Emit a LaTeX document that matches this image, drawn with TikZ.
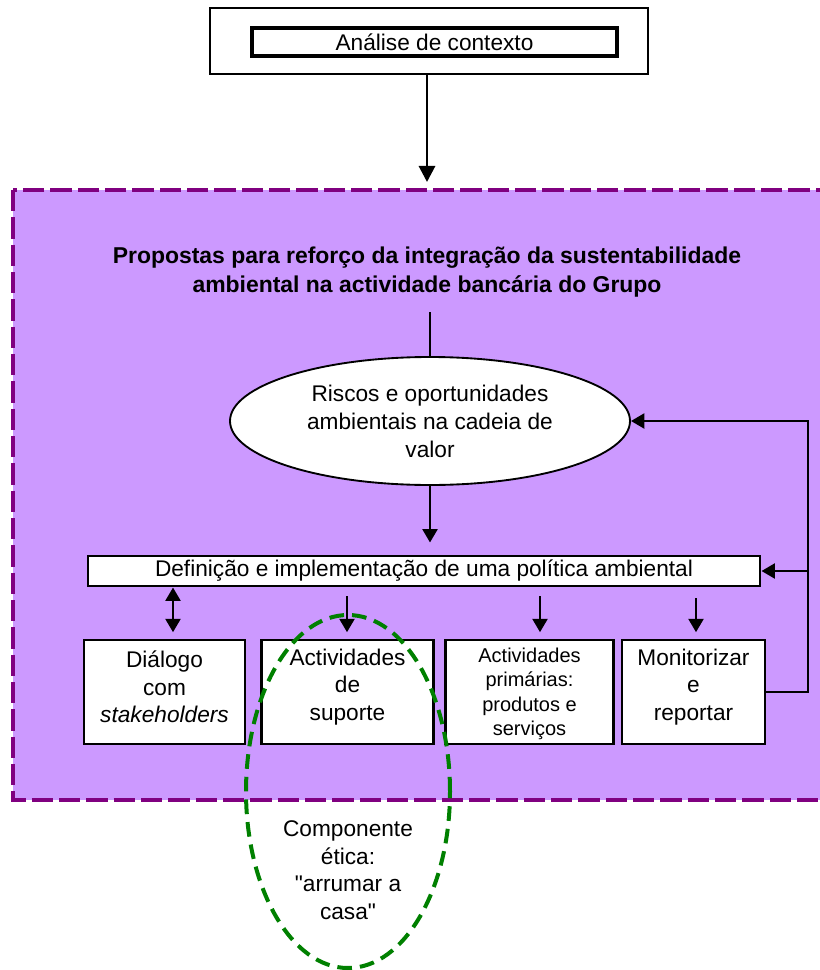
\documentclass[tikz,border=0pt]{standalone}
\usepackage{fontspec}
\setmainfont{Liberation Sans}
\usetikzlibrary{arrows.meta,shapes.geometric}
\definecolor{lilac}{HTML}{CC99FF}
\definecolor{plum}{HTML}{800080}
\definecolor{dgreen}{HTML}{008000}
\begin{document}
\begin{tikzpicture}[x=0.75pt,y=-0.75pt,
 box/.style={draw=black, fill=white, line width=1.6pt, inner sep=0pt},
 txt/.style={align=center, font=\fontsize{17}{20.6}\selectfont, inner sep=0pt},
 smalltxt/.style={align=center, font=\fontsize{15}{18.4}\selectfont, inner sep=0pt},
 arr/.style={-{Triangle[length=10pt,width=11pt]}, line width=2.2pt},
 bigarr/.style={-{Triangle[length=12pt,width=12pt]}, line width=2.2pt},
 dblarr/.style={{Triangle[length=10pt,width=11pt]}-{Triangle[length=10pt,width=11pt]}, line width=2.2pt},
 plainline/.style={line width=2pt}]
\useasboundingbox (0,0) rectangle (819,970);

% top context box
\node[box, minimum width=328.5pt, minimum height=49.5pt] (ctxout) at (429,41) {};
\node[box, line width=2.4pt, minimum width=273.75pt, minimum height=21pt, txt] (ctx) at (434.5,42) {Análise de contexto};

% purple panel
\path[fill=lilac, draw=plum, line width=3pt, dash pattern=on 16pt off 4.5pt] (13,190) rectangle (840,800);

\coordinate (ptop) at (427,182);
\draw[bigarr] (ctxout.south -| ptop) -- (ptop);

% title
\node[align=center, inner sep=0pt, font={\fontsize{17.2}{21.75}\selectfont\bfseries}] (title) at (427,272)
 {Propostas para reforço da integração da sustentabilidade\\ambiental na actividade bancária do Grupo};

% ellipse
\node[ellipse, draw=black, fill=white, line width=1.4pt, minimum width=300pt, minimum height=96pt, align=center, inner sep=0pt, font=\fontsize{17}{21}\selectfont] (risk) at (430,421)
 {Riscos e oportunidades\\ambientais na cadeia de\\valor};
\coordinate (tfoot) at (430,312);
\draw[plainline] (tfoot) -- (risk.north);

% policy box
\node[box, line width=2.2pt, minimum width=504pt, minimum height=22.5pt, txt] (policy) at (424,571)
 {Definição e implementação de uma política ambiental};
\draw[arr, shorten >=9pt] (risk.south) -- (risk.south |- policy.north);

% bottom boxes
\node[box, minimum width=120.75pt, minimum height=78pt] (b1) at (164.5,692) {};
\node[txt] (b1t) at (164.5,687) {Diálogo\\com\\\textit{stakeholders}};
\node[box, minimum width=129pt, minimum height=78pt] (b2) at (347.5,692) {};
\node[txt] (b2t) at (347.5,687) {Actividades\\de\\suporte};
\node[box, minimum width=126pt, minimum height=78pt] (b3) at (529.5,692) {};
\node[smalltxt] (b3t) at (529.5,694) {Actividades\\primárias:\\produtos e\\serviços};
\node[box, minimum width=107.25pt, minimum height=78pt] (b4) at (693.5,692) {};
\node[txt] (b4t) at (693.5,687) {Monitorizar\\e\\reportar};

% arrows to boxes
\coordinate (x1) at (173,0);
\coordinate (x2) at (347,0);
\coordinate (x3) at (540,0);
\coordinate (x4) at (696,0);
\draw[dblarr, shorten >=5pt] (policy.south -| x1) -- (b1.north -| x1);
\draw[arr, shorten <=6.75pt, shorten >=5pt] (policy.south -| x2) -- (b2.north -| x2);
\draw[arr, shorten <=6.75pt, shorten >=5pt] (policy.south -| x3) -- (b3.north -| x3);
\draw[arr, shorten <=8pt, shorten >=5pt] (policy.south -| x4) -- (b4.north -| x4);

% feedback loop
\coordinate (fb) at (808,692);
\draw[arr] (b4.east) -- (fb) |- (risk.east);
\draw[arr] (fb |- policy.east) -- (policy.east);

% ethical component ellipse
\node[ellipse, draw=dgreen, line width=3pt, dash pattern=on 11pt off 6pt, minimum width=153pt, minimum height=264.75pt, inner sep=0pt] (ethic) at (348,791.5) {};
\node[txt] (etht) at (348,870) {Componente\\ética:\\\textquotedbl arrumar a\\casa\textquotedbl};
\end{tikzpicture}
\end{document}
